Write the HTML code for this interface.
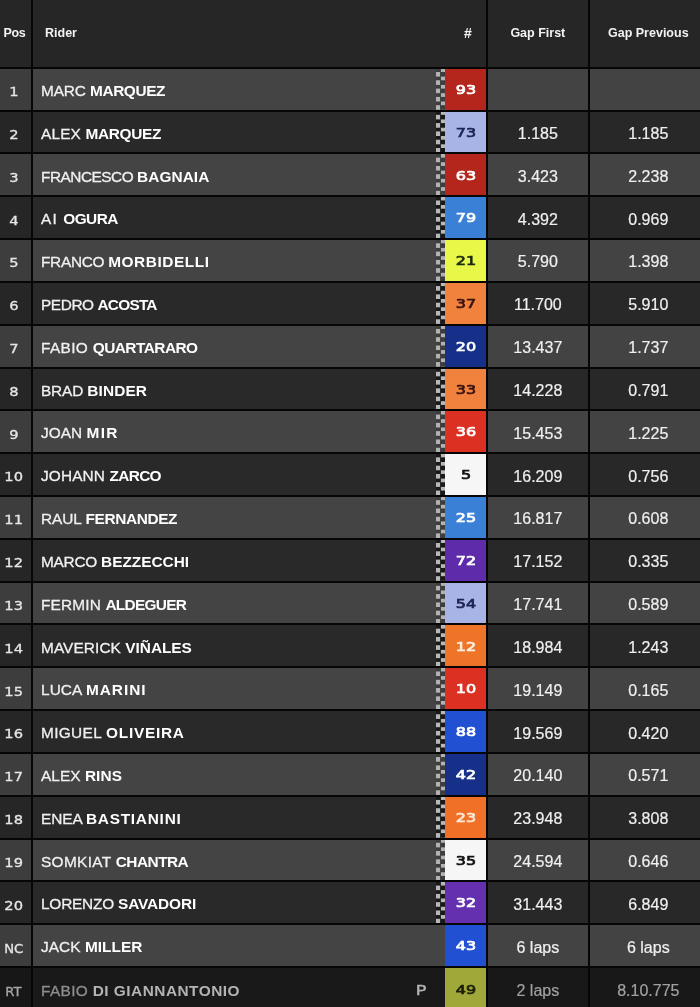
<!DOCTYPE html>
<html lang="en"><head><meta charset="utf-8"><title>Race Results</title>
<style>
*{margin:0;padding:0;box-sizing:border-box}
html,body{width:700px;height:1007px;overflow:hidden;background:#060606}
body{position:relative;filter:blur(0.45px);font-family:"Liberation Sans",sans-serif;color:#fff}
.c{position:absolute;overflow:hidden}
.h{top:-6px;height:73px;padding-top:6px;background:#262626;font-weight:700;font-size:12.5px;color:#f2f2f2;line-height:67px;white-space:nowrap}
.r{position:absolute;left:0;width:700px;height:41px}
.r .c{top:0;height:100%;line-height:40.8px;white-space:nowrap}
.p{left:-6px;width:36.7px;padding-left:6px;text-align:center;font-family:"DejaVu Sans","Liberation Sans",sans-serif;font-size:12px;color:#e6e6e6;padding-right:3px;line-height:calc(47.6px + var(--d))!important}
.p span,.k span{display:inline-block;transform:scaleX(1.22)}
.p span{-webkit-text-stroke:0.3px currentColor}
.p span.a{transform:scaleX(1.1);-webkit-text-stroke:0.3px currentColor}
.n{left:32.5px;width:403.5px;padding-left:8.5px;font-size:15.4px;color:#f0f0f0;letter-spacing:0.1px;line-height:calc(44.2px + var(--d))!important;-webkit-text-stroke:0.3px currentColor}
.n b{font-weight:700;color:#fff;-webkit-text-stroke:0}
.f{left:436.3px;width:8.7px}
.k{left:444.8px;width:41.4px;text-align:center;font-family:"DejaVu Sans","Liberation Sans",sans-serif;font-weight:400;font-size:12.5px;line-height:calc(42.2px + var(--d))!important}
.k span{transform:scaleX(1.28);-webkit-text-stroke:0.7px currentColor}
.g1{left:487.7px;width:100.3px;text-align:center;font-size:16px;color:#f0f0f0;line-height:calc(44.8px + var(--d))!important;-webkit-text-stroke:0.2px currentColor}
.g2{left:590px;width:116.6px;text-align:center;font-size:16px;color:#f0f0f0;line-height:calc(44.8px + var(--d))!important;-webkit-text-stroke:0.2px currentColor}
.o .p{background-color:#3d3d3d}.o .n,.o .f{background-color:#444444}.o .g1,.o .g2{background-color:#434343}
.e .p{background-color:#262626}.e .n,.e .f{background-color:#292929}.e .g1,.e .g2{background-color:#282828}
.d .p{background-color:#171717;color:#a6a6a6}.d .n,.d .f{background-color:#191919}.d .g1,.d .g2{background-color:#181818}
.pi{position:absolute;left:384px;top:0;font-family:"DejaVu Sans",sans-serif;font-size:13.5px;color:#b4b4b4;display:inline-block;transform:scaleX(1.35);line-height:calc(45px + var(--d))}
.d .n{color:#8e8e8e}.d .n b{color:#b4b4b4}.d .g1,.d .g2{color:#a2a2a2}
.fl{background-size:4.4px 8.3px;background-repeat:repeat-y}
.o .fl{background-image:linear-gradient(#b2b2b2 50%,rgba(0,0,0,.1) 50%),linear-gradient(rgba(0,0,0,.1) 50%,#b2b2b2 50%)}
.e .fl{background-image:linear-gradient(#b8b8b8 50%,rgba(0,0,0,.38) 50%),linear-gradient(rgba(0,0,0,.38) 50%,#b8b8b8 50%)}
</style></head><body>
<div class="c h" style="left:-6px;width:36.7px;padding-left:9.5px;letter-spacing:-0.3px">Pos</div>
<div class="c h" style="left:32.5px;width:453.7px;padding-left:12.5px">Rider<span style="position:absolute;left:431.5px;top:6px;font-size:14px">#</span></div>
<div class="c h" style="left:487.7px;width:100.3px;text-align:center">Gap First</div>
<div class="c h" style="left:590px;width:116.6px;text-align:center">Gap Previous</div>
<div class="r o" style="top:69px;height:41px;--d:-0.40px"><div class="c p"><span>1</span></div><div class="c n" style="letter-spacing:-0.12px">MARC <b style="letter-spacing:-0.40px">MARQUEZ</b></div><div class="c f fl" style="background-position:4.4px -0.70px,0 -0.70px"></div><div class="c k" style="background:#b4261b;color:#ffffff"><span>93</span></div><div class="c g1"></div><div class="c g2"></div></div>
<div class="r e" style="top:112px;height:40px;--d:-0.76px"><div class="c p"><span>2</span></div><div class="c n" style="letter-spacing:0.17px">ALEX <b style="letter-spacing:-0.33px">MARQUEZ</b></div><div class="c f fl" style="background-position:4.4px -0.88px,0 -0.88px"></div><div class="c k" style="background:#a8b4e6;color:#1c2452"><span>73</span></div><div class="c g1">1.185</div><div class="c g2">1.185</div></div>
<div class="r o" style="top:154px;height:41px;--d:0.88px"><div class="c p"><span>3</span></div><div class="c n" style="letter-spacing:-0.49px">FRANCESCO <b style="letter-spacing:0.08px">BAGNAIA</b></div><div class="c f fl" style="background-position:4.4px -0.06px,0 -0.06px"></div><div class="c k" style="background:#b4261b;color:#ffffff"><span>63</span></div><div class="c g1">3.423</div><div class="c g2">2.238</div></div>
<div class="r e" style="top:197px;height:41px;--d:0.52px"><div class="c p"><span>4</span></div><div class="c n" style="letter-spacing:1.15px">AI <b style="letter-spacing:-0.55px">OGURA</b></div><div class="c f fl" style="background-position:4.4px -0.24px,0 -0.24px"></div><div class="c k" style="background:#3a80d6;color:#ffffff"><span>79</span></div><div class="c g1">4.392</div><div class="c g2">0.969</div></div>
<div class="r o" style="top:240px;height:41px;--d:0.16px"><div class="c p"><span>5</span></div><div class="c n" style="letter-spacing:-0.30px">FRANCO <b style="letter-spacing:0.56px">MORBIDELLI</b></div><div class="c f fl" style="background-position:4.4px -0.42px,0 -0.42px"></div><div class="c k" style="background:#e8f748;color:#1c2a10"><span>21</span></div><div class="c g1">5.790</div><div class="c g2">1.398</div></div>
<div class="r e" style="top:283px;height:41px;--d:-0.20px"><div class="c p"><span>6</span></div><div class="c n" style="letter-spacing:-0.42px">PEDRO <b style="letter-spacing:-0.77px">ACOSTA</b></div><div class="c f fl" style="background-position:4.4px -0.60px,0 -0.60px"></div><div class="c k" style="background:#f0823e;color:#3a1410"><span>37</span></div><div class="c g1">11.700</div><div class="c g2">5.910</div></div>
<div class="r o" style="top:326px;height:41px;--d:-0.56px"><div class="c p"><span>7</span></div><div class="c n" style="letter-spacing:0.35px">FABIO <b style="letter-spacing:-0.52px">QUARTARARO</b></div><div class="c f fl" style="background-position:4.4px -0.78px,0 -0.78px"></div><div class="c k" style="background:#16308a;color:#ffffff"><span>20</span></div><div class="c g1">13.437</div><div class="c g2">1.737</div></div>
<div class="r e" style="top:369px;height:40px;--d:-0.92px"><div class="c p"><span>8</span></div><div class="c n" style="letter-spacing:-0.15px">BRAD <b style="letter-spacing:0.12px">BINDER</b></div><div class="c f fl" style="background-position:4.4px -0.96px,0 -0.96px"></div><div class="c k" style="background:#f0823e;color:#3a1410"><span>33</span></div><div class="c g1">14.228</div><div class="c g2">0.791</div></div>
<div class="r o" style="top:411px;height:41px;--d:0.72px"><div class="c p"><span>9</span></div><div class="c n" style="letter-spacing:0.05px">JOAN <b style="letter-spacing:1.29px">MIR</b></div><div class="c f fl" style="background-position:4.4px -0.14px,0 -0.14px"></div><div class="c k" style="background:#dc3022;color:#ffffff"><span>36</span></div><div class="c g1">15.453</div><div class="c g2">1.225</div></div>
<div class="r e" style="top:454px;height:41px;--d:0.36px"><div class="c p"><span>10</span></div><div class="c n" style="letter-spacing:0.13px">JOHANN <b style="letter-spacing:-0.65px">ZARCO</b></div><div class="c f fl" style="background-position:4.4px -0.32px,0 -0.32px"></div><div class="c k" style="background:#f6f6f6;color:#111111"><span>5</span></div><div class="c g1">16.209</div><div class="c g2">0.756</div></div>
<div class="r o" style="top:497px;height:41px;--d:0.00px"><div class="c p"><span>11</span></div><div class="c n" style="letter-spacing:-0.05px">RAUL <b style="letter-spacing:-0.37px">FERNANDEZ</b></div><div class="c f fl" style="background-position:4.4px -0.50px,0 -0.50px"></div><div class="c k" style="background:#3a80d6;color:#ffffff"><span>25</span></div><div class="c g1">16.817</div><div class="c g2">0.608</div></div>
<div class="r e" style="top:540px;height:41px;--d:-0.36px"><div class="c p"><span>12</span></div><div class="c n" style="letter-spacing:-0.26px">MARCO <b style="letter-spacing:0.00px">BEZZECCHI</b></div><div class="c f fl" style="background-position:4.4px -0.68px,0 -0.68px"></div><div class="c k" style="background:#5e2caa;color:#ffffff"><span>72</span></div><div class="c g1">17.152</div><div class="c g2">0.335</div></div>
<div class="r o" style="top:583px;height:40px;--d:-0.72px"><div class="c p"><span>13</span></div><div class="c n" style="letter-spacing:0.16px">FERMIN <b style="letter-spacing:-0.69px">ALDEGUER</b></div><div class="c f fl" style="background-position:4.4px -0.86px,0 -0.86px"></div><div class="c k" style="background:#a8b4e6;color:#1c2452"><span>54</span></div><div class="c g1">17.741</div><div class="c g2">0.589</div></div>
<div class="r e" style="top:625px;height:41px;--d:0.92px"><div class="c p"><span>14</span></div><div class="c n" style="letter-spacing:0.09px">MAVERICK <b style="letter-spacing:-0.04px">VIÑALES</b></div><div class="c f fl" style="background-position:4.4px -0.04px,0 -0.04px"></div><div class="c k" style="background:#ee7428;color:#fff0e0"><span>12</span></div><div class="c g1">18.984</div><div class="c g2">1.243</div></div>
<div class="r o" style="top:668px;height:41px;--d:0.56px"><div class="c p"><span>15</span></div><div class="c n" style="letter-spacing:0.09px">LUCA <b style="letter-spacing:0.98px">MARINI</b></div><div class="c f fl" style="background-position:4.4px -0.22px,0 -0.22px"></div><div class="c k" style="background:#dc3022;color:#ffffff"><span>10</span></div><div class="c g1">19.149</div><div class="c g2">0.165</div></div>
<div class="r e" style="top:711px;height:41px;--d:0.20px"><div class="c p"><span>16</span></div><div class="c n" style="letter-spacing:0.34px">MIGUEL <b style="letter-spacing:0.73px">OLIVEIRA</b></div><div class="c f fl" style="background-position:4.4px -0.40px,0 -0.40px"></div><div class="c k" style="background:#2250d2;color:#ffffff"><span>88</span></div><div class="c g1">19.569</div><div class="c g2">0.420</div></div>
<div class="r o" style="top:754px;height:41px;--d:-0.16px"><div class="c p"><span>17</span></div><div class="c n" style="letter-spacing:0.05px">ALEX <b style="letter-spacing:0.08px">RINS</b></div><div class="c f fl" style="background-position:4.4px -0.58px,0 -0.58px"></div><div class="c k" style="background:#16308a;color:#ffffff"><span>42</span></div><div class="c g1">20.140</div><div class="c g2">0.571</div></div>
<div class="r e" style="top:797px;height:41px;--d:-0.52px"><div class="c p"><span>18</span></div><div class="c n" style="letter-spacing:-0.09px">ENEA <b style="letter-spacing:0.76px">BASTIANINI</b></div><div class="c f fl" style="background-position:4.4px -0.76px,0 -0.76px"></div><div class="c k" style="background:#f07028;color:#ffe8d4"><span>23</span></div><div class="c g1">23.948</div><div class="c g2">3.808</div></div>
<div class="r o" style="top:840px;height:40px;--d:-0.88px"><div class="c p"><span>19</span></div><div class="c n" style="letter-spacing:0.33px">SOMKIAT <b style="letter-spacing:-0.52px">CHANTRA</b></div><div class="c f fl" style="background-position:4.4px -0.94px,0 -0.94px"></div><div class="c k" style="background:#f6f6f6;color:#111111"><span>35</span></div><div class="c g1">24.594</div><div class="c g2">0.646</div></div>
<div class="r e" style="top:882px;height:41px;--d:0.76px"><div class="c p"><span>20</span></div><div class="c n" style="letter-spacing:-0.20px">LORENZO <b style="letter-spacing:-0.11px">SAVADORI</b></div><div class="c f fl" style="background-position:4.4px -0.12px,0 -0.12px"></div><div class="c k" style="background:#6430b0;color:#ffffff"><span>32</span></div><div class="c g1">31.443</div><div class="c g2">6.849</div></div>
<div class="r o" style="top:925px;height:41px;--d:0.40px"><div class="c p"><span class="a">NC</span></div><div class="c n" style="letter-spacing:0.05px">JACK <b style="letter-spacing:0.04px">MILLER</b></div><div class="c f"></div><div class="c k" style="background:#2250d2;color:#ffffff"><span>43</span></div><div class="c g1">6 laps</div><div class="c g2">6 laps</div></div>
<div class="r d" style="top:968px;height:50px;--d:0.84px"><div class="c p"><span class="a">RT</span></div><div class="c n" style="letter-spacing:0.35px">FABIO <b style="letter-spacing:0.49px">DI GIANNANTONIO</b><span class="pi">P</span></div><div class="c f"></div><div class="c k" style="background:#a0a83a;color:#1c2008"><span>49</span></div><div class="c g1">2 laps</div><div class="c g2">8.10.775</div></div>
</body></html>
